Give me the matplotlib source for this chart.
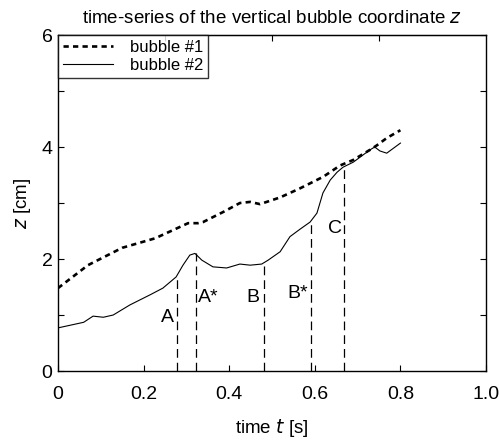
import matplotlib
matplotlib.use("Agg")
import matplotlib.pyplot as plt
import numpy as np

plt.rcParams['font.family'] = ['Liberation Sans', 'DejaVu Sans']

# bubble #1 (dashed)
t1 = [0.0, 0.07, 0.15, 0.227, 0.304, 0.327, 0.339, 0.386, 0.425, 0.449, 0.472,
      0.519, 0.565, 0.62, 0.659, 0.69, 0.729, 0.745, 0.768, 0.8]
z1 = [1.48, 1.89, 2.2, 2.37, 2.64, 2.64, 2.66, 2.84, 3.0, 3.02, 2.98,
      3.1, 3.26, 3.47, 3.67, 3.77, 3.95, 4.03, 4.16, 4.3]

# bubble #2 (solid)
t2 = [0.0, 0.06, 0.082, 0.106, 0.129, 0.168, 0.215, 0.245, 0.276, 0.292, 0.308,
      0.32, 0.336, 0.362, 0.394, 0.425, 0.449, 0.476, 0.491, 0.519, 0.542,
      0.565, 0.589, 0.605, 0.619, 0.636, 0.652, 0.666, 0.69, 0.729, 0.74,
      0.752, 0.768, 0.8]
z2 = [0.77, 0.87, 0.98, 0.96, 1.0, 1.18, 1.36, 1.48, 1.68, 1.89, 2.07,
      2.1, 1.98, 1.86, 1.84, 1.91, 1.89, 1.91, 1.98, 2.13, 2.4,
      2.53, 2.66, 2.82, 3.18, 3.41, 3.55, 3.64, 3.73, 3.95, 4.0,
      3.93, 3.89, 4.07]

# events
ev_labels = ['A', 'A*', 'B', 'B*', 'C']
ev_t = [0.277, 0.323, 0.482, 0.59, 0.668]
ev_z = [1.70, 2.10, 1.93, 2.66, 3.64]
lab_t = [0.256, 0.35, 0.456, 0.56, 0.647]
lab_z = [0.96, 1.32, 1.32, 1.39, 2.54]

fig = plt.figure(figsize=(4.99, 4.41), dpi=100)
ax = fig.add_axes([0.1162, 0.1587, 0.974 - 0.1162, 0.9206 - 0.1587])

ax.plot(t1, z1, color='black', lw=1.9, linestyle=(0, (2.0, 1.6)), label='bubble #1')
ax.plot(t2, z2, color='black', lw=0.8, label='bubble #2')

for t, z in zip(ev_t, ev_z):
    ax.plot([t, t], [0, z], color='black', lw=0.9, linestyle=(0, (7, 4)))
for s, t, z in zip(ev_labels, lab_t, lab_z):
    ax.text(t, z, s, ha='center', va='center', fontsize=14)

ax.set_xlim(0, 1.0)
ax.set_ylim(0, 6)
ax.set_xticks([0, 0.2, 0.4, 0.6, 0.8, 1.0])
ax.set_xticklabels(['0', '0.2', '0.4', '0.6', '0.8', '1.0'])
ax.set_yticks([0, 2, 4, 6])
ax.set_yticks([1, 3, 5], minor=True)
ax.tick_params(which='both', direction='in', labelsize=14, right=True, length=4, width=0.8)
ax.tick_params(axis='x', pad=11)
ax.tick_params(axis='y', pad=4)

secx = ax.secondary_xaxis('top')
secx.set_xticks([0.25, 0.5, 0.75])
secx.tick_params(direction='in', labeltop=False, length=4, width=0.8)

for sp in ax.spines.values():
    sp.set_linewidth(1.0)

ax.set_title('time-series of the vertical bubble coordinate $\\it{z}$', fontsize=13.5, pad=9)
ax.set_xlabel('time $\\it{t}$ [s]', fontsize=13.5, labelpad=10)
ax.set_ylabel('$\\it{z}$ [cm]', fontsize=13.5, labelpad=6)

leg = ax.legend(loc='upper left', fontsize=12, frameon=True, fancybox=False,
                borderaxespad=0, handlelength=3.0, borderpad=0.3,
                labelspacing=0.15, handletextpad=1.0)
leg.get_frame().set_edgecolor('black')
leg.get_frame().set_linewidth(1.0)

fig.savefig('out.png', dpi=100)
